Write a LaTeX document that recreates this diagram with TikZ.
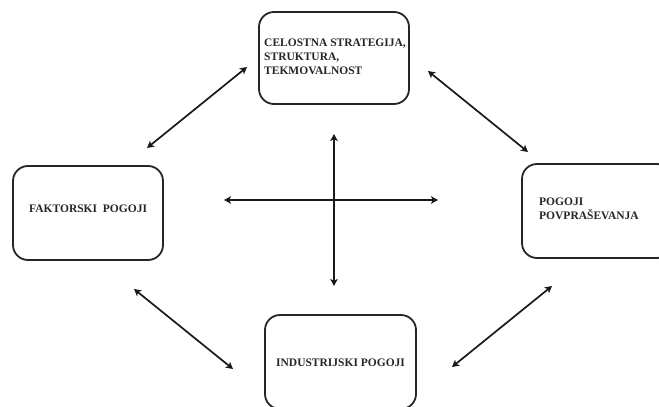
\documentclass[tikz,border=0pt]{standalone}
\usepackage{fontspec}
\setmainfont{Liberation Serif}
\usetikzlibrary{arrows.meta}
\begin{document}
\begin{tikzpicture}[x=1pt,y=-1pt,
  box/.style={draw=black!85,line width=1.8pt,rounded corners=15pt,fill=white},
  boxtext/.style={font=\bfseries\fontsize{11.5}{14}\selectfont,text=black!85,align=left,anchor=west,inner sep=0pt},
  link/.style={line width=1.7pt,black!90,{Stealth[length=7pt,width=7.5pt,inset=1.8pt]}-{Stealth[length=7pt,width=7.5pt,inset=1.8pt]}}]
  \clip (0,0) rectangle (659,407);
  \useasboundingbox (0,0) rectangle (659,407);

  % boxes
  \node[box,minimum width=150pt,minimum height=92pt] (strat) at (334,58) {};
  \node[box,minimum width=150pt,minimum height=94pt] (fakt) at (88,213) {};
  \node[box,minimum width=150pt,minimum height=94pt] (povp) at (597,211) {};
  \node[box,minimum width=151pt,minimum height=94pt] (ind) at (340.5,362) {};

  % labels
  \node[boxtext] (tstrat) at (264,57) {CELOSTNA STRATEGIJA,\\STRUKTURA,\\TEKMOVALNOST};
  \node[boxtext] (tfakt) at (29,209) {FAKTORSKI\ \ POGOJI};
  \node[boxtext] (tpovp) at (539,209) {POGOJI\\POVPRAŠEVANJA};
  \node[boxtext] (tind) at (276,363) {INDUSTRIJSKI POGOJI};

  % arrow ends
  \coordinate (a1) at (147,148); \coordinate (a2) at (247,67);
  \coordinate (b1) at (428,71);  \coordinate (b2) at (528,152);
  \coordinate (c1) at (134,289); \coordinate (c2) at (233,369);
  \coordinate (d1) at (452,367); \coordinate (d2) at (552,286);
  \coordinate (h1) at (224,200); \coordinate (h2) at (438,200);
  \coordinate (v1) at (334,134); \coordinate (v2) at (334,286);

  \draw[link] (a1) -- (a2);
  \draw[link] (b1) -- (b2);
  \draw[link] (c1) -- (c2);
  \draw[link] (d1) -- (d2);
  \draw[link] (h1) -- (h2);
  \draw[link] (v1) -- (v2);
\end{tikzpicture}
\end{document}
